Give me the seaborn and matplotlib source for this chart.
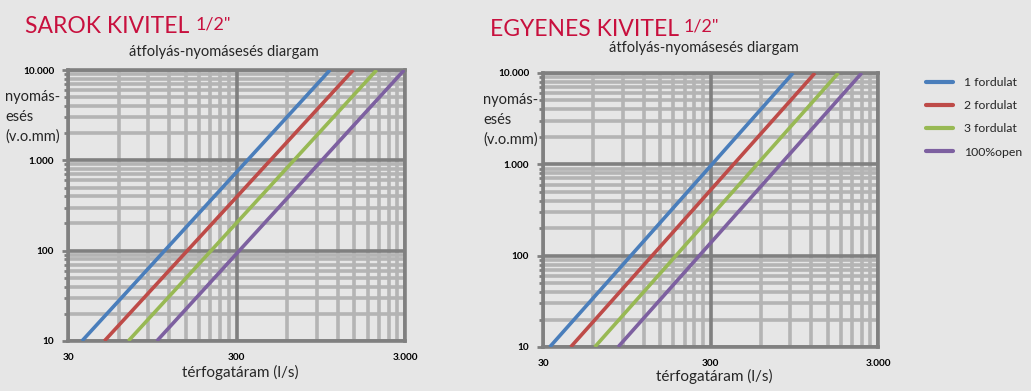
import matplotlib
matplotlib.use("Agg")
import matplotlib.pyplot as plt
import matplotlib.ticker as mticker
import seaborn as sns
import pandas as pd
import numpy as np

# ---- data ----
series_names = ["1 fordulat", "2 fordulat", "3 fordulat", "100%open"]
pressure_ends = [10, 10000]                     # v.o.mm at the two ends of each line
sarok_flow_low = [36.3, 49.3, 68.4, 101.0]       # flow at 10 v.o.mm
sarok_flow_high = [1077, 1479, 2037, 2970]       # flow at 10.000 v.o.mm
egyenes_flow_low = [32.9, 43.9, 61.1, 84.2]
egyenes_flow_high = [934, 1262, 1739, 2400]
x_major = [30, 300, 3000]
x_major_labels = ["30", "300", "3.000"]
y_major = [10, 100, 1000, 10000]
y_major_labels = ["10", "100", "1.000", "10.000"]

colors = ["#4a7ebb", "#be4b48", "#98b954", "#7d60a0"]
BG = "#e6e6e6"
TITLE_C = "#c8103e"
MINOR_C = "#b4b4b4"
MAJOR_C = "#808080"

sns.set_theme(style="white")
plt.rcParams["font.family"] = ["Lato", "DejaVu Sans"]

def make_df(low, high):
    rows = []
    for n, a, b in zip(series_names, low, high):
        rows.append({"series": n, "flow": a, "dp": pressure_ends[0]})
        rows.append({"series": n, "flow": b, "dp": pressure_ends[1]})
    return pd.DataFrame(rows)

fig = plt.figure(figsize=(10.31, 3.91), dpi=100)
fig.patch.set_facecolor(BG)

axL = fig.add_axes([68/1031, 50/391, 337/1031, 271/391])
axR = fig.add_axes([543/1031, 44/391, 335/1031, 274/391])

x_minor = [30*k for k in range(2, 10)] + [300*k for k in range(2, 10)]
y_minor = [b*k for b in (10, 100, 1000) for k in range(2, 10)]

for ax, (lo, hi) in [(axL, (sarok_flow_low, sarok_flow_high)),
                     (axR, (egyenes_flow_low, egyenes_flow_high))]:
    df = make_df(lo, hi)
    ax.set_facecolor(BG)
    sns.lineplot(data=df, x="flow", y="dp", hue="series", palette=colors,
                 hue_order=series_names, linewidth=2.6, ax=ax, legend=False,
                 zorder=5, solid_capstyle="butt")
    ax.set_xscale("log")
    ax.set_yscale("log")
    ax.set_xlim(30, 3000)
    ax.set_ylim(10, 10000)
    ax.xaxis.set_major_locator(mticker.FixedLocator(x_major))
    ax.xaxis.set_major_formatter(mticker.FixedFormatter(x_major_labels))
    ax.xaxis.set_minor_locator(mticker.FixedLocator(x_minor))
    ax.xaxis.set_minor_formatter(mticker.NullFormatter())
    ax.yaxis.set_major_locator(mticker.FixedLocator(y_major))
    ax.yaxis.set_major_formatter(mticker.FixedFormatter(y_major_labels))
    ax.yaxis.set_minor_locator(mticker.FixedLocator(y_minor))
    ax.yaxis.set_minor_formatter(mticker.NullFormatter())
    ax.grid(which="minor", color=MINOR_C, linewidth=2.6)
    ax.set_axisbelow(True)
    # major grid lines drawn above the minor ones
    for xv in x_major:
        ax.axvline(xv, color=MAJOR_C, linewidth=2.6, zorder=1.5)
    for yv in y_major:
        ax.axhline(yv, color=MAJOR_C, linewidth=2.6, zorder=1.5)
    for s in ax.spines.values():
        s.set_color(MAJOR_C)
        s.set_linewidth(2.6)
    ax.tick_params(axis="both", which="both", labelsize=7.2, colors=MAJOR_C,
                   labelcolor="black")
    ax.tick_params(axis="y", which="major", length=4, width=2, left=True, pad=6)
    ax.tick_params(axis="y", which="minor", length=3, width=2, left=True)
    ax.tick_params(axis="x", which="both", length=0, pad=9)
    for lab in ax.get_xticklabels() + ax.get_yticklabels():
        lab.set_fontweight("bold")
    ax.set_xlabel("")
    ax.set_ylabel("")

# titles
fig.text(25/1031, 1-33/391, "SAROK KIVITEL", fontsize=16.5, color=TITLE_C, va="baseline")
fig.text(196/1031, 1-29/391, '1/2"', fontsize=13, color=TITLE_C, va="baseline")
fig.text(490/1031, 1-36/391, "EGYENES KIVITEL", fontsize=16.5, color=TITLE_C, va="baseline")
fig.text(684/1031, 1-32/391, '1/2"', fontsize=13, color=TITLE_C, va="baseline")

# subtitles
fig.text(224/1031, 1-52/391, "átfolyás-nyomásesés diargam", fontsize=10.5, ha="center", va="center")
fig.text(704/1031, 1-48/391, "átfolyás-nyomásesés diargam", fontsize=10.5, ha="center", va="center")

# y labels
fig.text(5/1031, 1-117/391, "nyomás-\nesés\n(v.o.mm)", fontsize=10.5, ha="left", va="center",
         linespacing=1.5)
fig.text(483/1031, 1-120/391, "nyomás-\nesés\n(v.o.mm)", fontsize=10.5, ha="left", va="center",
         linespacing=1.5)

# x labels
fig.text(240/1031, 1-372/391, "térfogatáram (l/s)", fontsize=11, ha="center", va="center")
fig.text(714/1031, 1-376/391, "térfogatáram (l/s)", fontsize=11, ha="center", va="center")

# legend
from matplotlib.lines import Line2D
handles = [Line2D([0], [0], color=c, linewidth=3) for c in colors]
fig.legend(handles, series_names, loc="upper left",
           bbox_to_anchor=(915/1031, 1-66/391), frameon=False, fontsize=8.8,
           handlelength=2.2, labelspacing=1.0, handletextpad=0.9)

fig.savefig("out.png", dpi=100, facecolor=BG)
